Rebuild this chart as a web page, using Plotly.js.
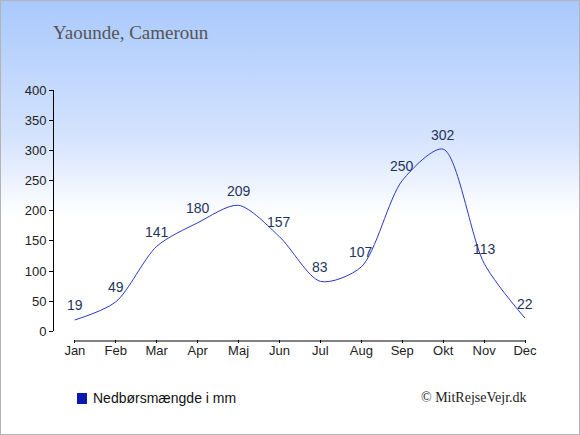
<!DOCTYPE html>
<html>
<head>
<meta charset="utf-8">
<script src="https://cdn.plot.ly/plotly-3.0.1.min.js"></script>
<style>
html,body{margin:0;padding:0;}
body{width:580px;height:435px;overflow:hidden;}
#wrap{position:absolute;left:0;top:0;width:578px;height:433px;border:1px solid #b4b4b4;
background:linear-gradient(to bottom,#a9c9fd 0px,#d6e4fd 140px,#ffffff 215px,#ffffff 435px);}
#chart{position:absolute;left:-1px;top:-1px;width:580px;height:435px;}
</style>
</head>
<body>
<div id="wrap"><div id="chart"></div></div>
<script>
const months = ["Jan","Feb","Mar","Apr","Maj","Jun","Jul","Aug","Sep","Okt","Nov","Dec"];
const rainfall = [19,49,141,180,209,157,83,107,250,302,113,22];
const yTicks = [0,50,100,150,200,250,300,350,400];
const chartTitle = "Yaounde, Cameroun";
const seriesName = "Nedbørsmængde i mm";
const credit = "© MitRejseVejr.dk";

const xIdx = months.map((m,i)=>i);

const trace = {
  x: xIdx, y: rainfall, type: "scatter", mode: "lines",
  line: {shape: "spline", smoothing: 0.8, color: "#2a37c4", width: 1},
  hoverinfo: "none", showlegend: false, cliponaxis: false
};

const valueLabels = rainfall.map((v,i)=>({
  x: i, y: v, xref: "x", yref: "y", text: String(v), showarrow: false,
  xanchor: "center", yanchor: "middle", yshift: 14.5,
  font: {family: "Liberation Sans, Arial, sans-serif", size: 14, color: "#1f3460"}
}));

const layout = {
  width: 580, height: 435,
  margin: {l: 54, r: 55, t: 90, b: 94},
  paper_bgcolor: "rgba(0,0,0,0)", plot_bgcolor: "rgba(0,0,0,0)",
  showlegend: false,
  font: {family: "Liberation Sans, Arial, sans-serif", size: 13, color: "#222"},
  xaxis: {
    range: [-0.51, 11], tickvals: xIdx, ticktext: months,
    showgrid: false, zeroline: false, showline: false,
    ticks: "", anchor: "free", position: 0, fixedrange: true,
    tickfont: {size: 13, color: "#222"}
  },
  xaxis2: {
    overlaying: "x", range: [-0.51, 11], tickvals: xIdx, showticklabels: false,
    showgrid: false, zeroline: false, showline: false,
    ticks: "outside", ticklen: 3, tickcolor: "#000", tickwidth: 1,
    anchor: "free", position: 0.008, side: "bottom", fixedrange: true
  },
  yaxis: {
    domain: [0.038, 1], range: [0, 400], tickvals: yTicks,
    showgrid: false, zeroline: false, showline: true, linecolor: "#000", linewidth: 1,
    ticks: "outside", ticklen: 4, tickcolor: "#000", tickwidth: 1,
    tickfont: {size: 13, color: "#222"}, fixedrange: true
  },
  shapes: [
    {type: "line", xref: "x", yref: "paper", x0: 0, x1: 11, y0: 0, y1: 0,
     line: {color: "#000", width: 1}},
    {type: "rect", xref: "paper", yref: "paper", xsizemode: "pixel", ysizemode: "pixel",
     xanchor: 0, yanchor: 0, x0: 23, x1: 33, y0: -52, y1: -63,
     fillcolor: "#0a1ab0", line: {width: 0}}
  ],
  annotations: valueLabels.concat([
    {text: chartTitle, xref: "paper", yref: "paper", x: -0.0065, y: 1, xanchor: "left", yanchor: "middle",
     yshift: 58, showarrow: false,
     font: {family: "Liberation Serif, Times New Roman, serif", size: 19, color: "#555"}},
    {text: seriesName, xref: "paper", yref: "paper", x: 0, y: 0, xanchor: "left", yanchor: "middle",
     xshift: 37, yshift: -57, showarrow: false,
     font: {family: "Liberation Sans, Arial, sans-serif", size: 14, color: "#111"}},
    {text: credit, xref: "paper", yref: "paper", x: 1, y: 0, xanchor: "right", yanchor: "middle",
     xshift: 4, yshift: -56, showarrow: false,
     font: {family: "Liberation Serif, Times New Roman, serif", size: 14, color: "#222"}}
  ])
};

const traceTicks = {x: [0], y: [null], xaxis: "x2", yaxis: "y", type: "scatter", mode: "lines",
  hoverinfo: "none", showlegend: false};

Plotly.newPlot("chart", [trace, traceTicks], layout, {displayModeBar: false, staticPlot: true});
</script>
</body>
</html>
